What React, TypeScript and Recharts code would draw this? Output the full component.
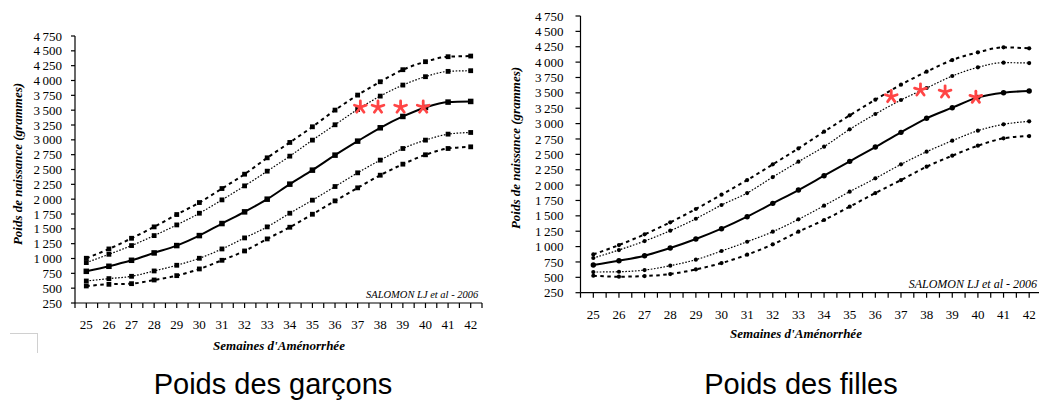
import React from "react";
import { ComposedChart, Line, Scatter, XAxis, YAxis } from "recharts";

// Gestational age (weeks of amenorrhea)
const weeks = [25, 26, 27, 28, 29, 30, 31, 32, 33, 34, 35, 36, 37, 38, 39, 40, 41, 42];

// Boys birth weight percentiles (g)
const boysP97 = [1004, 1161, 1341, 1533, 1741, 1943, 2179, 2421, 2697, 2956, 3220, 3501, 3754, 3979, 4182, 4317, 4401, 4412];
const boysP90 = [931, 1071, 1218, 1386, 1566, 1763, 1988, 2224, 2472, 2725, 2995, 3254, 3512, 3737, 3923, 4064, 4154, 4165];
const boysP50 = [784, 869, 970, 1094, 1218, 1386, 1589, 1786, 2000, 2253, 2489, 2742, 2978, 3203, 3394, 3546, 3636, 3647];
const boysP10 = [621, 661, 700, 790, 886, 1004, 1161, 1347, 1533, 1763, 1983, 2213, 2444, 2658, 2854, 2995, 3096, 3124];
const boysP3 = [537, 565, 576, 638, 711, 824, 970, 1127, 1330, 1527, 1746, 1971, 2191, 2404, 2590, 2748, 2854, 2882];

// Girls birth weight percentiles (g)
const girlsP97 = [873, 1025, 1199, 1394, 1611, 1844, 2082, 2337, 2597, 2869, 3134, 3389, 3633, 3845, 4034, 4159, 4240, 4224];
const girlsP90 = [814, 944, 1090, 1258, 1453, 1676, 1871, 2131, 2381, 2625, 2907, 3156, 3384, 3579, 3774, 3915, 3991, 3985];
const girlsP50 = [700, 770, 852, 976, 1123, 1291, 1486, 1703, 1920, 2153, 2386, 2619, 2858, 3086, 3259, 3427, 3503, 3530];
const girlsP10 = [586, 591, 618, 689, 787, 928, 1079, 1242, 1443, 1665, 1893, 2110, 2337, 2543, 2722, 2885, 2988, 3037];
const girlsP3 = [526, 510, 521, 553, 629, 732, 868, 1036, 1242, 1432, 1649, 1871, 2082, 2299, 2478, 2641, 2760, 2798];

// Red asterisks
const boysStarWeeks = [37.12, 37.9, 38.9, 39.9];
const boysStarWeights = [3550, 3550, 3550, 3550];
const girlsStarWeeks = [36.62, 37.76, 38.72, 39.92];
const girlsStarWeights = [3438, 3546, 3514, 3427];

// Axis ticks
const yTicks = [250, 500, 750, 1000, 1250, 1500, 1750, 2000, 2250, 2500, 2750, 3000, 3250, 3500, 3750, 4000, 4250, 4500, 4750];
const xTicks = weeks.flatMap((w) => [w - 0.5, w]).concat([42.5]);

const titles = ["Poids des garçons", "Poids des filles"];
const yLabel = "Poids de naissance (grammes)";
const xLabel = "Semaines d'Aménorrhée";
const source = "SALOMON LJ et al - 2006";

const SERIF = "'Liberation Serif', 'Times New Roman', serif";
const SANS = "'Liberation Sans', Arial, sans-serif";

const fmtY = (v: number) => {
  const s = String(v);
  return s.length > 3 ? s.slice(0, s.length - 3) + "\u2009" + s.slice(s.length - 3) : s;
};

const buildRows = (p3: number[], p10: number[], p50: number[], p90: number[], p97: number[]) =>
  weeks.map((w, i) => ({ w, p3: p3[i], p10: p10[i], p50: p50[i], p90: p90[i], p97: p97[i] }));

const buildStars = (ws: number[], vs: number[]) => ws.map((w, i) => ({ w, v: vs[i] }));

const XTick = (props: any) => {
  const { x, y, payload } = props;
  if (!Number.isInteger(payload.value)) return <g />;
  return (
    <text x={x} y={y} dy="0.71em" textAnchor="middle" fontFamily={SERIF} fontSize={13} fill="#000">
      {payload.value}
    </text>
  );
};

const YTick = (props: any) => {
  const { x, y, payload } = props;
  return (
    <text x={x} y={y} dy="0.35em" textAnchor="end" fontFamily={SERIF} fontSize={13} fill="#000">
      {fmtY(payload.value)}
    </text>
  );
};

const Asterisk = (props: any) => {
  const { cx, cy } = props;
  if (cx == null || cy == null) return <g />;
  const arms = [-90, -18, 54, 126, 198];
  return (
    <g>
      {arms.map((a) => {
        const r = (a * Math.PI) / 180;
        return (
          <line
            key={a}
            x1={cx}
            y1={cy}
            x2={cx + Math.cos(r) * 6.2}
            y2={cy + Math.sin(r) * 6.2}
            stroke="#ff4545"
            strokeWidth={2.8}
            strokeLinecap="round"
          />
        );
      })}
    </g>
  );
};

const squareDot = (size: number) => (p: any) => {
  const { cx, cy, index } = p;
  return <rect key={"s" + index} x={cx - size / 2} y={cy - size / 2} width={size} height={size} fill="#000" />;
};
const circleDot = (r: number) => (p: any) => {
  const { cx, cy, index } = p;
  return <circle key={"c" + index} cx={cx} cy={cy} r={r} fill="#000" />;
};

type ChartProps = {
  rows: any[];
  stars: any[];
  width: number;
  height: number;
  margin: any;
  yWidth: number;
  xHeight: number;
  yTickSize: number;
  yTickMargin: number;
  square: boolean;
};

const GrowthChart = ({ rows, stars, width, height, margin, yWidth, xHeight, yTickSize, yTickMargin, square }: ChartProps) => {
  const bigDot = square ? squareDot(5.5) : circleDot(2.7);
  const smallDot = square ? squareDot(4.8) : circleDot(2.1);
  return (
    <ComposedChart width={width} height={height} data={rows} margin={margin}>
      <XAxis
        dataKey="w"
        type="number"
        domain={[24.5, 42.5]}
        ticks={xTicks}
        interval={0}
        allowDataOverflow
        height={xHeight}
        tickSize={5}
        tickMargin={12}
        tick={<XTick />}
        axisLine={{ stroke: "#000", strokeWidth: 1.2 }}
        tickLine={{ stroke: "#000", strokeWidth: 1.2 }}
      />
      <YAxis
        type="number"
        domain={[250, 4750]}
        ticks={yTicks}
        interval={0}
        width={yWidth}
        tickSize={yTickSize}
        tickMargin={yTickMargin}
        tick={<YTick />}
        axisLine={{ stroke: "#000", strokeWidth: 1.2 }}
        tickLine={{ stroke: "#000", strokeWidth: 1.2 }}
      />
      <Line dataKey="p97" type="monotone" stroke="#000" strokeWidth={2} strokeDasharray="3.5 3.5" dot={smallDot} activeDot={false} isAnimationActive={false} />
      <Line dataKey="p90" type="monotone" stroke="#000" strokeWidth={1.2} strokeDasharray="1.6 1.6" dot={smallDot} activeDot={false} isAnimationActive={false} />
      <Line dataKey="p50" type="monotone" stroke="#000" strokeWidth={2} dot={bigDot} activeDot={false} isAnimationActive={false} />
      <Line dataKey="p10" type="monotone" stroke="#000" strokeWidth={1.2} strokeDasharray="1.6 1.6" dot={smallDot} activeDot={false} isAnimationActive={false} />
      <Line dataKey="p3" type="monotone" stroke="#000" strokeWidth={2} strokeDasharray="3.5 3.5" dot={smallDot} activeDot={false} isAnimationActive={false} />
      <Scatter data={stars} dataKey="v" shape={<Asterisk />} isAnimationActive={false} />
    </ComposedChart>
  );
};

const abs = (left: number, top: number, extra: any = {}) => ({ position: "absolute" as const, left, top, ...extra });

const RotLabel = ({ cx, cy, text }: { cx: number; cy: number; text: string }) => (
  <div
    style={abs(cx, cy, {
      transform: "translate(-50%, -50%) rotate(-90deg)",
      whiteSpace: "nowrap",
      fontFamily: SERIF,
      fontWeight: "bold",
      fontStyle: "italic",
      fontSize: 13,
      lineHeight: "13px",
    })}
  >
    {text}
  </div>
);

const CenterText = ({ cx, cy, text, style }: any) => (
  <div style={abs(cx, cy, { transform: "translate(-50%, -50%)", whiteSpace: "nowrap", ...style })}>{text}</div>
);

export default function App() {
  const boysRows = buildRows(boysP3, boysP10, boysP50, boysP90, boysP97);
  const girlsRows = buildRows(girlsP3, girlsP10, girlsP50, girlsP90, girlsP97);
  const boysStars = buildStars(boysStarWeeks, boysStarWeights);
  const girlsStars = buildStars(girlsStarWeeks, girlsStarWeights);
  const axisLabelStyle = { fontFamily: SERIF, fontWeight: "bold", fontStyle: "italic", fontSize: 13, lineHeight: "13px" };
  const titleStyle = { fontFamily: SANS, fontSize: 29, lineHeight: "29px", color: "#000" };
  return (
    <div style={{ position: "absolute", left: 0, top: 0, width: 1039, height: 403, overflow: "hidden", background: "#fff" }}>
      <div style={abs(0, 0)}>
        <GrowthChart
          rows={boysRows}
          stars={boysStars}
          width={500}
          height={360}
          margin={{ top: 36, right: 18, left: 0, bottom: 0 }}
          yWidth={75}
          xHeight={57}
          yTickSize={4}
          yTickMargin={9}
          square
        />
      </div>
      <div style={abs(500, 0)}>
        <GrowthChart
          rows={girlsRows}
          stars={girlsStars}
          width={543}
          height={360}
          margin={{ top: 16, right: 1, left: 0, bottom: 0 }}
          yWidth={80.5}
          xHeight={67.3}
          yTickSize={5}
          yTickMargin={12}
          square={false}
        />
      </div>

      <RotLabel cx={17} cy={164} text={yLabel} />
      <RotLabel cx={515} cy={148} text={yLabel} />
      <CenterText cx={279} cy={345} text={xLabel} style={axisLabelStyle} />
      <CenterText cx={796} cy={333} text={xLabel} style={axisLabelStyle} />

      <div style={abs(366, 289, { width: 111, textAlign: "right", whiteSpace: "nowrap", fontFamily: SERIF, fontStyle: "italic", fontSize: 10.5, lineHeight: "11px" })}>{source}</div>
      <div style={abs(887, 278, { width: 150, textAlign: "right", whiteSpace: "nowrap", fontFamily: SERIF, fontStyle: "italic", fontSize: 12, lineHeight: "12px" })}>{source}</div>

      <div style={abs(273, 370, { transform: "translateX(-50%)", whiteSpace: "nowrap", ...titleStyle })}>{titles[0]}</div>
      <div style={abs(801, 370, { transform: "translateX(-50%)", whiteSpace: "nowrap", ...titleStyle })}>{titles[1]}</div>

      <div style={abs(10, 333, { width: 27, height: 19, borderTop: "1px solid #d0d0d0", borderRight: "1px solid #d0d0d0" })} />
    </div>
  );
}
